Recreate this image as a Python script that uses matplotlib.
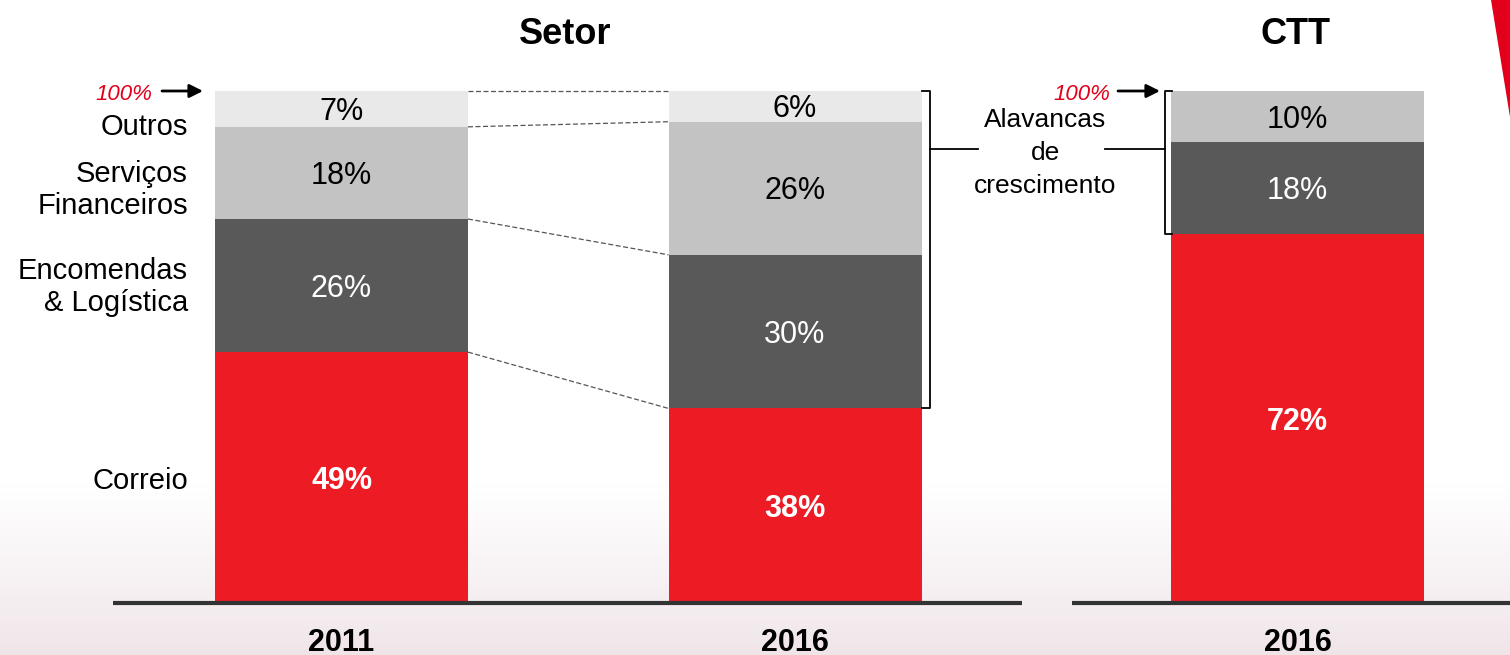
#!/usr/bin/env python3
"""
Setor vs CTT revenue mix - stacked bars (2011 / 2016 sector, 2016 CTT).
"""

import matplotlib
matplotlib.use('Agg')
import matplotlib.pyplot as plt
import numpy as np

plt.rcParams['font.family'] = ['Liberation Sans', 'DejaVu Sans']

# Data
segments = ['Correio', 'Encomendas\n& Logística', 'Serviços\nFinanceiros', 'Outros']
bar_labels = ['2011', '2016', '2016']
group_titles = ['Setor', 'CTT']
values = {
    'Correio':                [49, 38, 72],
    'Encomendas\n& Logística': [26, 30, 18],
    'Serviços\nFinanceiros':   [18, 26, 10],
    'Outros':                 [7, 6, 0],
}
bracket_text = 'Alavancas\nde\ncrescimento'

# Styling
COLORS = {
    'Correio': '#ED1C24',
    'Encomendas\n& Logística': '#595959',
    'Serviços\nFinanceiros': '#C3C3C3',
    'Outros': '#E9E9E9',
}
TEXT_COLORS = {
    'Correio': ('white', 'bold'),
    'Encomendas\n& Logística': ('white', 'normal'),
    'Serviços\nFinanceiros': ('black', 'normal'),
    'Outros': ('black', 'normal'),
}
RED_TXT = '#E2001A'

# Layout (x in pixels, y in percent)
W, H = 1510, 655
BASE_PX, TOP_PX = 603, 91
PX_PER_PCT = (BASE_PX - TOP_PX) / 100.0
x_pos = [341.5, 795, 1297.5]
bar_w = 253
TXT_DROP = 3 / PX_PER_PCT   # small downward nudge for centred text


def py(px):
    """pixel row -> percent units"""
    return (BASE_PX - px) / PX_PER_PCT


fig = plt.figure(figsize=(W / 100, H / 100), dpi=100)
ax = fig.add_axes([0, 0, 1, 1])
ax.set_xlim(0, W)
ax.set_ylim(py(H), py(0))
ax.axis('off')

# background: faint pink haze at the bottom
grad = np.zeros((200, 2, 3))
t = np.linspace(0, 1, 200)[:, None]
ramp = np.clip((t - 0.74) / 0.26, 0, 1) ** 1.1
top_c = np.array([1.0, 1.0, 1.0])
bot_c = np.array([0.94, 0.90, 0.915])
grad[:] = (top_c * (1 - ramp) + bot_c * ramp)[:, None, :]
ax.imshow(grad, extent=[0, W, py(H), py(0)], aspect='auto', zorder=0,
          interpolation='bilinear')

# red corner shape
fig.patches.append(plt.Polygon([(1491 / W, 1), (1, 1), (1, 1 - 117 / H)],
                               closed=True, transform=fig.transFigure,
                               facecolor='#E2001A', edgecolor='none'))

# stacked bars
bottoms = np.zeros(3)
for seg in segments:
    vals = np.array(values[seg], dtype=float)
    ax.bar(x_pos, vals, width=bar_w, bottom=bottoms, color=COLORS[seg],
           edgecolor='none', zorder=2)
    tc, fw = TEXT_COLORS[seg]
    for x, v, b in zip(x_pos, vals, bottoms):
        if v <= 0:
            continue
        ax.text(x, b + v / 2 - TXT_DROP, f'{int(v)}%', ha='center', va='center',
                fontsize=22, color=tc, fontweight=fw, zorder=3)
    bottoms += vals

# dashed connectors between sector bars
cum11 = np.cumsum([values[s][0] for s in segments])
cum16 = np.cumsum([values[s][1] for s in segments])
for a, b in zip(cum11, cum16):
    ax.plot([x_pos[0] + bar_w / 2, x_pos[1] - bar_w / 2], [a, b],
            ls=(0, (4, 2)), color='#555555', lw=0.9, zorder=2)

# baselines
ax.plot([113, 1022], [0, 0], color='#333333', lw=3, solid_capstyle='butt', zorder=4)
ax.plot([1072, W], [0, 0], color='#333333', lw=3, solid_capstyle='butt', zorder=4)

# left category labels
label_y = {
    'Outros': py(127),
    'Serviços\nFinanceiros': py(190),
    'Encomendas\n& Logística': py(287),
    'Correio': py(481),
}
for seg in segments:
    ax.text(188, label_y[seg], seg, ha='right', va='center', fontsize=21,
            linespacing=1.2)

# titles and year labels
ax.text(565, py(34), group_titles[0], ha='center', va='center',
        fontsize=26, fontweight='bold')
ax.text(1295, py(34), group_titles[1], ha='center', va='center',
        fontsize=26, fontweight='bold')
for x, lab in zip(x_pos, bar_labels):
    ax.text(x, py(643), lab, ha='center', va='center', fontsize=22,
            fontweight='bold')

# 100% markers
for txt_x, a0, a1 in [(152, 162, 203), (1110, 1118, 1160)]:
    ax.text(txt_x, py(95), '100%', ha='right', va='center', fontsize=16,
            style='italic', color=RED_TXT)
    ax.annotate('', xy=(a1, 100), xytext=(a0, 100),
                arrowprops=dict(arrowstyle='-|>', color='black', lw=2,
                                mutation_scale=20, shrinkA=0, shrinkB=0))

# brackets for growth levers
bx1 = 930
ax.plot([bx1 - 8, bx1, bx1, bx1 - 8], [100, 100, cum16[0], cum16[0]],
        color='black', lw=1.3, zorder=3)
bx2 = 1165
ax.plot([bx2 + 7, bx2, bx2, bx2 + 7], [100, 100, values['Correio'][2], values['Correio'][2]],
        color='black', lw=1.3, zorder=3)
ax.plot([bx1, 978], [py(149), py(149)], color='black', lw=1.3)
ax.plot([1105, bx2], [py(149), py(149)], color='black', lw=1.3)
ax.text(1045, py(153), bracket_text, ha='center', va='center', fontsize=19,
        linespacing=1.45)

fig.savefig('out.png', dpi=100, facecolor='white')
